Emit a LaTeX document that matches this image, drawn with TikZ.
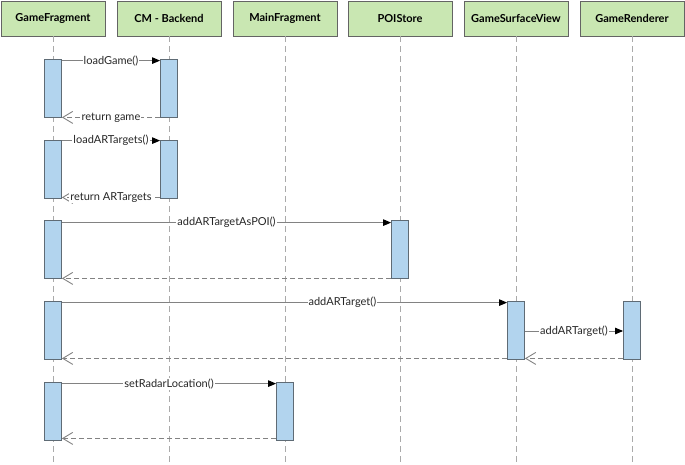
\documentclass[tikz,border=0pt]{standalone}
\usepackage{fontspec}
\setmainfont{Lato}
\usetikzlibrary{arrows.meta}
\definecolor{hdrfill}{RGB}{201,231,178}
\definecolor{hdrline}{RGB}{100,100,100}
\definecolor{barfill}{RGB}{178,212,238}
\definecolor{barline}{RGB}{95,107,117}
\definecolor{lifeline}{RGB}{170,170,170}
\definecolor{msgline}{RGB}{130,130,130}
\tikzset{
  hdr/.style={draw=hdrline, line width=0.9pt, fill=hdrfill, minimum width=104pt, minimum height=35pt, inner sep=0pt, font=\bfseries\fontsize{11}{13}\selectfont},
  actbar/.style={draw=barline, line width=0.8pt, fill=barfill, minimum width=17pt, minimum height=58pt, inner sep=0pt},
  life/.style={draw=lifeline, line width=0.8pt, dash pattern=on 6pt off 4pt},
  callmsg/.style={draw=msgline, line width=0.9pt, -{Triangle[length=8pt,width=6.5pt,fill=black,color=black]}},
  retmsg/.style={draw=msgline, line width=0.9pt, dash pattern=on 5pt off 3pt, -{Straight Barb[length=10pt,width=12pt,color=msgline]}},
  lbl/.style={fill=white, inner sep=1pt, font=\fontsize{11}{13}\selectfont, text=black!85}
}
\begin{document}
\begin{tikzpicture}[x=1pt,y=-1pt]
\useasboundingbox (0,0) rectangle (685,464);
% headers
\node[hdr] (h1) at (53,18.5) {GameFragment};
\node[hdr] (h2) at (169,18.5) {CM - Backend};
\node[hdr] (h3) at (285,18.5) {MainFragment};
\node[hdr] (h4) at (400,18.5) {POIStore};
\node[hdr] (h5) at (516,18.5) {GameSurfaceView};
\node[hdr] (h6) at (632,18.5) {GameRenderer};
% lifeline ends
\coordinate (e1) at (53,464);
\coordinate (e2) at (169,464);
\coordinate (e3) at (285,464);
\coordinate (e4) at (400,464);
\coordinate (e5) at (516,464);
\coordinate (e6) at (632,464);
\foreach \i in {1,...,6} { \draw[life] (h\i.south) -- (e\i); }
% activation bars
\node[actbar] (a1) at (53,88) {};
\node[actbar] (c1) at (169,88) {};
\node[actbar] (a2) at (53,169) {};
\node[actbar] (c2) at (169,169) {};
\node[actbar] (a3) at (53,249) {};
\node[actbar] (p3) at (400,249) {};
\node[actbar] (a4) at (53,330) {};
\node[actbar] (s4) at (516,330) {};
\node[actbar] (r4) at (632,330) {};
\node[actbar] (a5) at (53,411) {};
\node[actbar] (m5) at (285,411) {};
% messages
\draw[callmsg] ([yshift=-2pt]a1.north east) -- node[lbl]{loadGame()} ([yshift=-2pt]c1.north west);
\draw[retmsg] (c1.south west) -- node[lbl]{return game} (a1.south east);
\draw[callmsg] ([yshift=-1pt]a2.north east) -- node[lbl]{loadARTargets()} ([yshift=-1pt]c2.north west);
\draw[retmsg] ([yshift=1pt]c2.south west) -- node[lbl]{return ARTargets} ([yshift=1pt]a2.south east);
\draw[callmsg] ([yshift=-3pt]a3.north east) -- node[lbl]{addARTargetAsPOI()} ([yshift=-3pt]p3.north west);
\draw[retmsg] (p3.south west) -- (a3.south east);
\draw[callmsg] ([yshift=-2pt]a4.north east) -- node[lbl, pos=0.63]{addARTarget()} ([yshift=-2pt]s4.north west);
\draw[callmsg] ([yshift=-1pt]s4.east) -- node[lbl]{addARTarget()} ([yshift=-1pt]r4.west);
\draw[retmsg] ([yshift=1pt]r4.south west) -- ([yshift=1pt]s4.south east);
\draw[retmsg] ([yshift=1pt]s4.south west) -- ([yshift=1pt]a4.south east);
\draw[callmsg] ([yshift=-2pt]a5.north east) -- node[lbl]{setRadarLocation()} ([yshift=-2pt]m5.north west);
\draw[retmsg] ([yshift=2pt]m5.south west) -- ([yshift=2pt]a5.south east);
\end{tikzpicture}
\end{document}
